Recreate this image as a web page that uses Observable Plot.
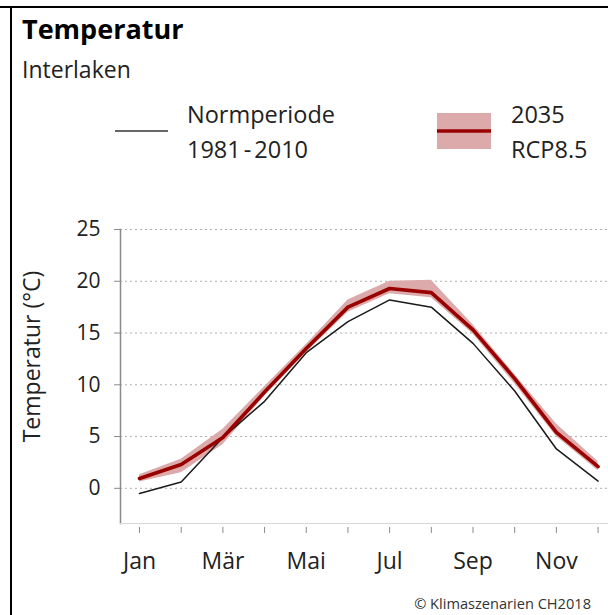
<!DOCTYPE html>
<html>
<head>
<meta charset="utf-8">
<script src="https://cdn.jsdelivr.net/npm/d3@7"></script>
<script src="https://cdn.jsdelivr.net/npm/@observablehq/plot@0.6"></script>
<style>
  html, body { margin: 0; padding: 0; background: #fff; }
  #wrap { position: relative; width: 608px; height: 615px; overflow: hidden; background: #fff; font-family: "Open Sans", sans-serif; }
  #plot { position: absolute; left: 0; top: 200px; }
  #overlay { position: absolute; left: 0; top: 0; pointer-events: none; }
</style>
</head>
<body>
<div id="wrap">
  <div id="plot"></div>
  <svg id="overlay" width="608" height="615"></svg>
</div>
<script>
// ---- data ----
const months = [1, 2, 3, 4, 5, 6, 7, 8, 9, 10, 11, 12];
const monthLabels = ["Jan", "", "Mär", "", "Mai", "", "Jul", "", "Sep", "", "Nov", ""];
const normperiode = [-0.5, 0.6, 4.9, 8.4, 13.1, 16.1, 18.2, 17.5, 14.0, 9.4, 3.8, 0.7];
const rcpMedian = [0.95, 2.3, 4.9, 9.3, 13.5, 17.5, 19.3, 18.9, 15.3, 10.6, 5.4, 2.1];
const rcpLow = [0.6, 1.5, 4.2, 8.9, 13.1, 17.0, 18.8, 18.4, 14.9, 10.1, 5.0, 1.7];
const rcpHigh = [1.3, 2.8, 5.7, 9.8, 13.9, 18.2, 20.0, 20.1, 15.8, 11.0, 6.2, 2.6];
const yTicks = [0, 5, 10, 15, 20, 25];
const yDomain = [-3.4, 25];
const xDomain = [0.544, 12.25];

const table = months.map((m, i) => ({
  month: m, norm: normperiode[i], mid: rcpMedian[i], low: rcpLow[i], high: rcpHigh[i]
}));

const chart = Plot.plot({
  width: 608,
  height: 390,
  marginLeft: 120,
  marginRight: 0,
  marginTop: 29,
  marginBottom: 67,
  style: { fontFamily: "Open Sans", fontSize: "21px", color: "#222", background: "transparent", overflow: "visible" },
  x: { type: "linear", domain: xDomain },
  y: { domain: yDomain },
  marks: [
    Plot.gridY(yTicks, { stroke: "#b0b0b0", strokeOpacity: 1, strokeDasharray: "2,3", strokeWidth: 1 }),
    Plot.areaY(table, { x: "month", y1: "low", y2: "high", fill: "#dcaaaa", fillOpacity: 1 }),
    Plot.lineY(table, { x: "month", y: "norm", stroke: "#1a1a1a", strokeWidth: 1.5 }),
    Plot.lineY(table, { x: "month", y: "mid", stroke: "#990000", strokeWidth: 3.6 }),
    Plot.frame({ anchor: "left", stroke: "#8a8a8a", strokeWidth: 1.5 }),
    Plot.frame({ anchor: "bottom", stroke: "#d8d8d8", strokeWidth: 1.2 }),
    Plot.axisY(yTicks, { tickSize: 6, tickPadding: 14, stroke: "#8a8a8a", fontSize: 21, label: null, tickFormat: d => String(d) }),
    Plot.axisX(months, { tickSize: 6, dy: 4, tickPadding: 19, stroke: "#8a8a8a", fontSize: 23, label: null, tickFormat: d => monthLabels[d - 1] }),
    Plot.text(["Temperatur (°C)"], { frameAnchor: "left", textAnchor: "middle", lineAnchor: "middle", rotate: -90, dx: -88, dy: -20, fontSize: 23, fill: "#222" })
  ]
});
document.getElementById("plot").appendChild(chart);

// ---- header, legend, frame, credit ----
const svg = d3.select("#overlay");
svg.append("line").attr("x1", 0).attr("x2", 608).attr("y1", 7).attr("y2", 7).attr("stroke", "#000").attr("stroke-width", 2);
svg.append("line").attr("x1", 11).attr("x2", 11).attr("y1", 6).attr("y2", 615).attr("stroke", "#000").attr("stroke-width", 2);

svg.append("text").attr("x", 22).attr("y", 39).attr("font-family", "Open Sans").attr("font-weight", 700)
  .attr("font-size", 27).attr("fill", "#000").text("Temperatur");
svg.append("text").attr("x", 22).attr("y", 78).attr("font-family", "Open Sans")
  .attr("font-size", 23).attr("fill", "#222").text("Interlaken");

// legend
svg.append("line").attr("x1", 115).attr("x2", 168).attr("y1", 131).attr("y2", 131).attr("stroke", "#333").attr("stroke-width", 1.5);
svg.append("text").attr("x", 187).attr("y", 123).attr("font-family", "Open Sans").attr("font-size", 23.5).attr("fill", "#222").text("Normperiode");
const t2 = svg.append("text").attr("x", 187).attr("y", 158).attr("font-family", "Open Sans").attr("font-size", 23.5).attr("fill", "#222");
t2.append("tspan").text("1981");
t2.append("tspan").attr("dx", 3).text("-");
t2.append("tspan").attr("dx", 3).text("2010");

svg.append("rect").attr("x", 437).attr("y", 113).attr("width", 54).attr("height", 36).attr("fill", "#dcaaaa");
svg.append("line").attr("x1", 437).attr("x2", 491).attr("y1", 131).attr("y2", 131).attr("stroke", "#990000").attr("stroke-width", 3.5);
svg.append("text").attr("x", 511).attr("y", 123).attr("font-family", "Open Sans").attr("font-size", 23.5).attr("fill", "#222").text("2035");
svg.append("text").attr("x", 511).attr("y", 158).attr("font-family", "Open Sans").attr("font-size", 23.5).attr("fill", "#222").text("RCP8.5");

svg.append("text").attr("x", 591).attr("y", 609).attr("text-anchor", "end").attr("font-family", "Open Sans")
  .attr("font-size", 14.6).attr("fill", "#333").text("© Klimaszenarien CH2018");
</script>
</body>
</html>
